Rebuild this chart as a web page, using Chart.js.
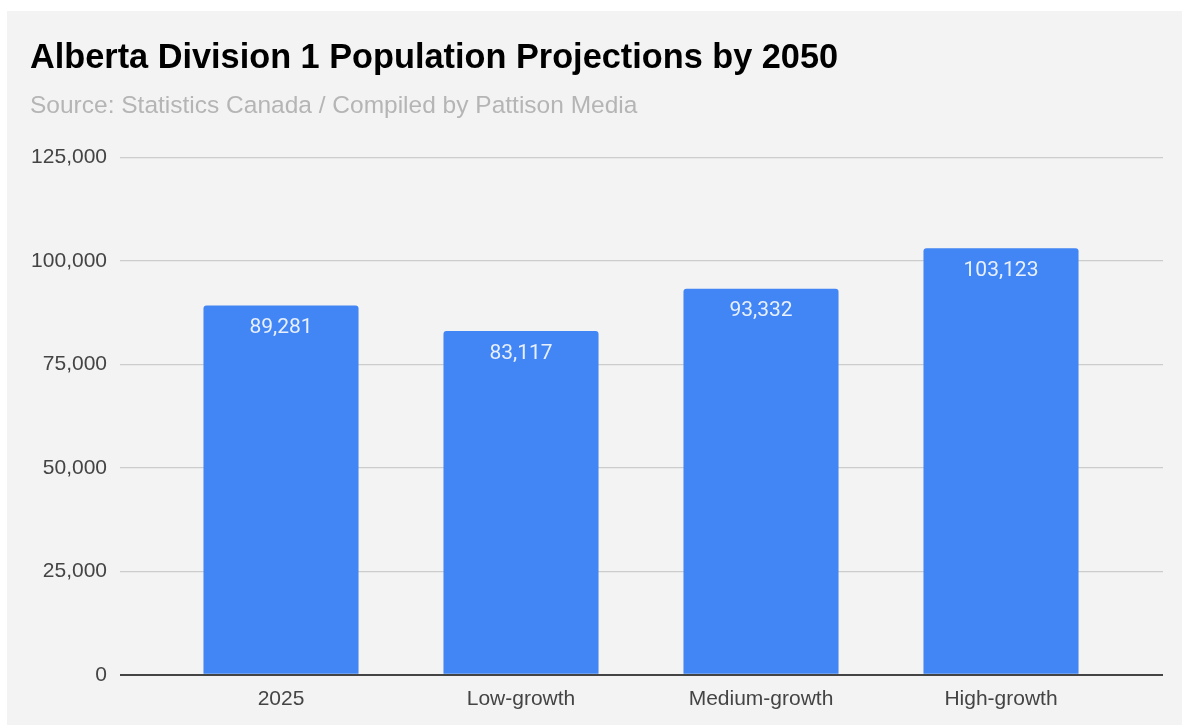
<!DOCTYPE html>
<html>
<head>
<meta charset="utf-8">
<script src="https://cdn.jsdelivr.net/npm/chart.js@4.4.1/dist/chart.umd.min.js"></script>
<style>
  html, body { margin: 0; padding: 0; background: #ffffff; width: 1182px; height: 725px; overflow: hidden; }
  #panel { position: absolute; left: 7px; top: 11px; right: 0; bottom: 0; background: #f3f3f3; }
  #wrap { position: absolute; left: 0; top: 0; width: 1182px; height: 725px; }
</style>
</head>
<body>
<div id="panel"></div>
<div id="wrap"><canvas id="c" width="1182" height="725"></canvas></div>
<script>
// ---- data ----
const titleText = 'Alberta Division 1 Population Projections by 2050';
const subtitleText = 'Source: Statistics Canada / Compiled by Pattison Media';
const categories = ['2025', 'Low-growth', 'Medium-growth', 'High-growth'];
const populationValues = [89281, 83117, 93332, 103123];
const yTickMin = 0;
const yTickMax = 125000;
const yTickStep = 25000;

// ---- styles ----
const BAR_COLOR = '#4285f4';
const GRID_COLOR = '#cccccc';
const BASE_COLOR = '#444444';
const TICK_FONT = { family: '"Liberation Sans", Arial, sans-serif', size: 21 };
const fmt = v => Number(v).toLocaleString('en-US');

const gridColor = ctx => (ctx.tick && ctx.tick.value === 0) ? BASE_COLOR : GRID_COLOR;
const gridWidth = ctx => (ctx.tick && ctx.tick.value === 0) ? 2 : 1.3;

const valueLabels = {
  id: 'valueLabels',
  afterDatasetsDraw(chart) {
    const ctx = chart.ctx;
    const meta = chart.getDatasetMeta(0);
    ctx.save();
    ctx.font = '21px Roboto, "Liberation Sans", sans-serif';
    ctx.fillStyle = 'rgba(255,255,255,0.88)';
    ctx.textAlign = 'center';
    ctx.textBaseline = 'middle';
    meta.data.forEach((el, i) => {
      ctx.fillText(fmt(chart.data.datasets[0].data[i]), el.x, el.y + 22.5);
    });
    ctx.restore();
  }
};

new Chart(document.getElementById('c'), {
  type: 'bar',
  data: {
    labels: categories,
    datasets: [{
      label: 'Population',
      data: populationValues,
      backgroundColor: BAR_COLOR,
      borderRadius: 3,
      borderSkipped: 'start',
      categoryPercentage: 1,
      barPercentage: 0.646
    }]
  },
  options: {
    responsive: false,
    animation: false,
    devicePixelRatio: 1,
    layout: { padding: { top: 0, left: 30, right: 19, bottom: 1 } },
    plugins: {
      legend: { display: false },
      tooltip: { enabled: false },
      title: {
        display: true,
        text: titleText,
        align: 'start',
        color: '#000000',
        font: { family: '"Liberation Sans", Arial, sans-serif', size: 34.3, weight: 'bold' },
        padding: { top: 37.5, bottom: 0 }
      },
      subtitle: {
        display: true,
        text: subtitleText,
        align: 'start',
        color: '#b5b5b5',
        font: { family: '"Liberation Sans", Arial, sans-serif', size: 24.5 },
        padding: { top: 13, bottom: 36.6 }
      }
    },
    scales: {
      x: {
        type: 'category',
        grid: { display: false, drawTicks: false },
        border: { display: false },
        ticks: { color: '#444444', font: TICK_FONT, padding: 12, maxRotation: 0, autoSkip: false }
      },
      y: {
        position: 'left',
        min: yTickMin,
        max: yTickMax,
        grid: { color: gridColor, tickColor: gridColor, lineWidth: gridWidth, tickWidth: gridWidth, tickLength: 41, drawTicks: true },
        border: { display: false },
        ticks: { stepSize: yTickStep, color: '#444444', font: TICK_FONT, padding: 13, callback: v => fmt(v) },
        afterFit(scale) { scale.width = 131; }
      },
      y2: {
        position: 'right',
        min: yTickMin,
        max: yTickMax,
        grid: { drawOnChartArea: false, color: gridColor, tickColor: gridColor, lineWidth: gridWidth, tickWidth: gridWidth, tickLength: 42, drawTicks: true },
        border: { display: false },
        ticks: { stepSize: yTickStep, display: false },
        afterFit(scale) { scale.width = 42; }
      }
    }
  },
  plugins: [valueLabels]
});
</script>
</body>
</html>
